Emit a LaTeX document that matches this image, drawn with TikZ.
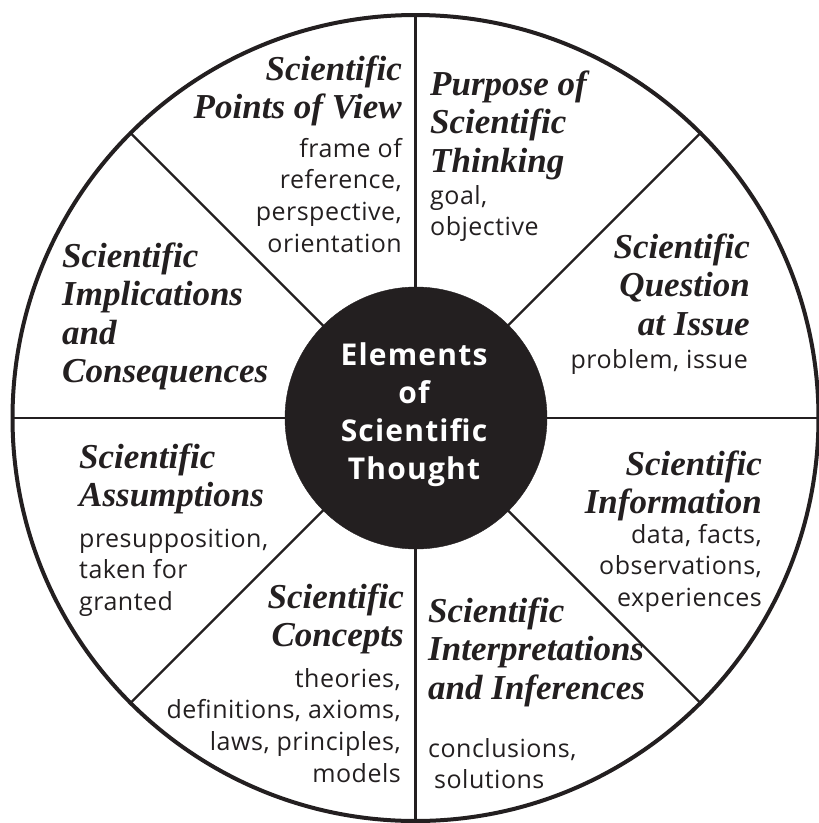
\documentclass[tikz,border=0pt]{standalone}
\usepackage{fontspec}
\setmainfont{Liberation Serif}
\newfontfamily\subfam{Open Sans}[LetterSpace=2]
\newfontfamily\ctrfam{Open Sans}[LetterSpace=4]
\definecolor{ink}{HTML}{231F20}
\newcommand\ttlfont{\fontsize{35}{38.5}\selectfont\bfseries\itshape}
\newcommand\subfont{\subfam\fontsize{25}{31.7}\selectfont}
\newcommand\ctrfont{\ctrfam\fontsize{30}{38}\selectfont\bfseries}
\newcommand\R[1]{\begin{tabular}[t]{@{}r@{}}#1\end{tabular}}
\newcommand\Lt[1]{\begin{tabular}[t]{@{}l@{}}#1\end{tabular}}
\newcommand\Ct[1]{\begin{tabular}[t]{@{}c@{}}#1\end{tabular}}
\begin{document}
\begin{tikzpicture}[x=1pt,y=-1pt,
  ttl/.style={font=\ttlfont, text=ink, inner sep=0pt},
  sub/.style={font=\subfont, text=ink, inner sep=0pt},
  spoke/.style={draw=ink, line width=2.2pt},
  rim/.style={draw=ink, line width=4pt}]
\useasboundingbox (0,0) rectangle (819,823);
\coordinate (C) at (415.5,418);
% spokes
\foreach \a in {0,45,...,315}{
  \draw[spoke] (C) -- ++(\a:-403);
}
\draw[rim] (C) circle (403);
\node[circle, fill=ink, draw=ink, minimum size=262pt, inner sep=0pt] (hub) at (416,418) {};
\node[font=\ctrfont, text=white, inner sep=0pt, anchor=base] (hubtxt) at (414,365)
  {\Ct{Elements\\of\\Scientific\\Thought}};
% Points of view
\node[ttl, anchor=base east] (pvT) at (402,80) {\R{Scientific\\Points of View}};
\node[sub, anchor=base east] (pvS) at (402,157) {\R{frame of\\reference,\\perspective,\\orientation}};
% Purpose
\node[ttl, anchor=base west] (puT) at (430,95) {\Lt{Purpose of\\Scientific\\Thinking}};
\node[sub, anchor=base west] (puS) at (430,204) {\Lt{goal,\\objective}};
% Question
\node[ttl, anchor=base east] (quT) at (750,258) {\R{Scientific\\Question\\at Issue}};
\node[sub, anchor=base east] (quS) at (748,368) {\R{problem, issue}};
% Implications
\node[ttl, anchor=base west] (imT) at (62,267) {\Lt{Scientific\\Implications\\and\\Consequences}};
% Information
\node[ttl, anchor=base east] (inT) at (762,475) {\R{Scientific\\Information}};
\node[sub, anchor=base east] (inS) at (762,543) {\R{data, facts,\\observations,\\experiences}};
% Assumptions
\node[ttl, anchor=base west] (asT) at (79,468) {\Lt{Scientific\\Assumptions}};
\node[sub, anchor=base west] (asS) at (79,547) {\Lt{presupposition,\\taken for\\granted}};
% Concepts
\node[ttl, anchor=base east] (coT) at (404,608) {\R{Scientific\\Concepts}};
\node[sub, anchor=base east] (coS) at (401,687) {\R{theories,\\definitions, axioms,\\laws, principles,\\models}};
% Interpretations
\node[ttl, anchor=base west] (itT) at (428,622) {\Lt{Scientific\\Interpretations\\and Inferences}};
\node[sub, anchor=base west] (itS) at (428,757) {\Lt{conclusions,\\\hspace{6pt}solutions}};
\end{tikzpicture}
\end{document}
